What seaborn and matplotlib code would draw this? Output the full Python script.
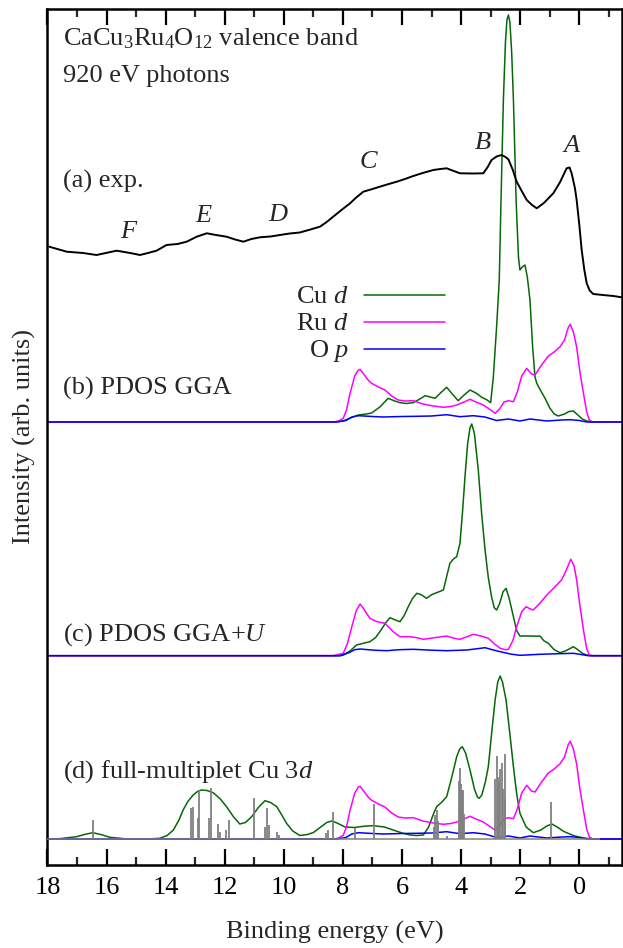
import numpy as np
import pandas as pd
import matplotlib
matplotlib.use("Agg")
import matplotlib.pyplot as plt
import seaborn as sns
from matplotlib.lines import Line2D
from matplotlib.ticker import MultipleLocator

# ---------------- data (binding energy in eV, intensity in arb. units) ----------------
exp_E = [17.94, 17.35, 16.8, 16.34, 15.66, 15.2, 14.87, 14.6, 14.31, 13.97, 13.6, 13.29, 12.95,
         12.61, 12.3, 11.94, 11.65, 11.37, 11.1, 10.81, 10.45, 10.13, 9.8, 9.46, 9.1, 8.78, 8.55,
         8.33, 8.05, 7.76, 7.55, 7.31, 7.0, 6.75, 6.45, 6.18, 5.9, 5.62, 5.3, 4.94, 4.7, 4.49,
         4.25, 4.04, 3.6, 3.25, 3.1, 2.97, 2.8, 2.63, 2.5, 2.4, 2.25, 2.12, 1.95, 1.78, 1.6, 1.44,
         1.2, 0.88, 0.65, 0.43, 0.33, 0.26, 0.15, 0.09, 0.0, -0.08, -0.17, -0.25, -0.35, -0.47,
         -0.8, -1.15, -1.43]
exp_I = [50.6, 45.6, 44.3, 42.3, 46.6, 44.3, 42.3, 44.3, 46.6, 52.3, 53.3, 55.6, 60.6,
         64.0, 62.3, 60.6, 57.8, 55.6, 58.3, 60.0, 60.8, 62.3, 63.8, 64.8, 67.8, 70.6, 75.3,
         80.6, 87.3, 94.0, 99.8, 105.6, 108.3, 110.6, 113.3, 115.6, 118.3, 121.3, 124.3, 127.3, 128.3, 129.0,
         126.3, 124.0, 123.8, 124.0, 130.3, 137.3, 140.8, 142.3, 140.3, 138.0, 127.3, 115.6, 106.3, 97.3, 92.3, 89.0,
         94.3, 104.0, 115.3, 129.0, 129.8, 124.0, 109.3, 97.3, 72.3, 47.3, 27.3, 14.0, 6.8, 3.3,
         2.3, 1.3, 0.0]

gga_cu_E = [18.0, 8.3, 8.0, 7.75, 7.48, 7.2, 7.03, 6.75, 6.47, 6.25, 6.07, 5.85, 5.62, 5.4, 5.22, 5.05,
            4.88, 4.7, 4.49, 4.3, 4.1, 3.9, 3.7, 3.5, 3.3, 3.12, 3.0, 2.91, 2.8, 2.71, 2.65, 2.57, 2.5,
            2.45, 2.4, 2.35, 2.29, 2.23, 2.14, 2.06, 2.01, 1.93, 1.84, 1.76, 1.67, 1.58, 1.5, 1.44, 1.3,
            1.16, 1.0, 0.85, 0.71, 0.5, 0.35, 0.2, 0.05, -0.1, -0.25, -0.4, -1.43]
gga_cu_I = [0, 0, 1, 4, 7, 8, 9, 15, 23.7, 21, 19.3, 18.5, 19.3, 23, 26.3, 25,
            23.7, 29, 34.7, 28, 21.3, 27, 32, 29, 24.7, 22, 19.3, 45, 95, 142, 222, 322, 380,
            402, 407, 400, 370, 322, 222, 165, 152, 155, 157, 145, 122, 75, 45, 38.7, 31,
            23.7, 14, 8, 6, 8, 10.5, 11, 7, 3, 1, 0, 0]

gga_ru_E = [18.0, 8.32, 8.15, 7.99, 7.88, 7.76, 7.6, 7.48, 7.42, 7.3, 7.15, 7.03, 6.8, 6.58, 6.35, 6.13,
            5.9, 5.62, 5.3, 4.94, 4.6, 4.35, 4.15, 3.9, 3.7, 3.5, 3.25, 3.05, 2.85, 2.7, 2.55, 2.4,
            2.23, 2.1, 1.95, 1.78, 1.62, 1.5, 1.3, 1.05, 0.85, 0.65, 0.5, 0.38, 0.31, 0.2, 0.09,
            -0.02, -0.14, -0.25, -0.34, -0.45, -1.43]
gga_ru_I = [0, 0, 1, 3.7, 12, 28.7, 46, 52, 52.7, 48, 42, 38.7, 35, 32, 26, 22,
            21, 21.3, 18, 16, 14.7, 15.5, 17, 20, 22.7, 20, 17, 13, 8.7, 13, 20, 21.3,
            20.3, 30, 46, 53.7, 48, 47, 56, 66, 70, 75.3, 82, 94, 97.7, 90, 75,
            50, 28.7, 10, 2, 0, 0]

gga_o_E = [18.0, 8.2, 7.9, 7.7, 7.48, 7.0, 6.64, 6.0, 5.5, 5.0, 4.49, 4.04, 3.59, 3.2, 2.8, 2.4,
           2.01, 1.67, 1.1, 0.6, 0.31, 0.0, -0.25, -1.43]
gga_o_I = [0, 0, 1.5, 5, 6.3, 5.5, 5, 5.5, 5.7, 6, 7.3, 5.3, 6.3, 5, 1.5, 3,
           1, 3, 1, 2, 2.3, 1.5, 0, 0]

ggau_cu_E = [18.0, 8.1, 7.99, 7.75, 7.54, 7.3, 7.09, 6.9, 6.75, 6.55, 6.41, 6.25, 6.07, 5.93, 5.79,
             5.65, 5.5, 5.35, 5.17, 5.0, 4.83, 4.6, 4.5, 4.38, 4.25, 4.15, 4.04, 3.95, 3.87, 3.78,
             3.7, 3.64, 3.55, 3.42, 3.3, 3.19, 3.08, 2.97, 2.88, 2.8, 2.7, 2.58, 2.48, 2.38, 2.23,
             2.12, 2.01, 1.67, 1.45, 1.33, 1.2, 1.05, 0.85, 0.65, 0.45, 0.2, 0.05, -0.1, -0.25,
             -0.4, -1.43]
ggau_cu_I = [0, 0, 0.5, 5, 10.7, 12.5, 14, 18, 24, 33, 38, 36, 34, 40, 49,
             57, 62.4, 61, 57.4, 61, 63, 65.7, 78, 92.4, 97, 99, 112.4, 145, 179, 212,
             228, 231.7, 222, 185.7, 140, 105.7, 78, 59, 48, 45.7, 52, 64, 67.4, 58, 39,
             25, 19.7, 19.7, 19.5, 19.7, 15, 12.4, 6, 3, 5, 9, 6, 2.5, 0.7,
             0, 0]

ggau_ru_E = [18.0, 8.32, 7.99, 7.85, 7.7, 7.55, 7.42, 7.3, 7.09, 6.85, 6.58, 6.3, 6.07, 5.73, 5.5,
             5.28, 4.9, 4.49, 4.25, 4.04, 3.8, 3.59, 3.3, 3.08, 2.88, 2.68, 2.5, 2.4, 2.25, 2.12,
             1.95, 1.8, 1.68, 1.56, 1.35, 1.1, 0.85, 0.6, 0.45, 0.29, 0.18, 0.09, -0.02, -0.14,
             -0.25, -0.34, -0.45, -1.43]
ggau_ru_I = [0, 0, 2.4, 12, 29, 45, 51.7, 47, 37.4, 34, 32.4, 24, 19, 19, 18,
             16.4, 18, 19.7, 17.5, 16.4, 19, 21.4, 19.5, 17.4, 12, 7.4, 6, 6.4, 15, 29,
             44, 49, 47, 45.7, 52, 60.7, 68, 75.7, 85, 96.4, 90, 75.7, 50, 25.7,
             7, 0.7, 0, 0]

ggau_o_E = [18.0, 8.1, 7.8, 7.6, 7.42, 6.95, 6.52, 6.1, 5.62, 5.0, 4.49, 3.81, 3.4, 3.19, 2.95,
            2.68, 2.3, 2.01, 1.33, 0.7, 0.2, -0.1, -0.3, -1.43]
ggau_o_I = [0, 0, 3, 6, 6.7, 5.5, 5, 6, 6.4, 5.5, 5, 5.7, 7.2, 8, 6,
            4, 1.5, 0.4, 1.4, 2, 2.4, 1, 0, 0]

mult_E = [18.0, 17.6, 17.01, 16.75, 16.47, 16.2, 15.89, 15.3, 14.6, 14.2, 13.95, 13.74, 13.55, 13.41,
          13.25, 13.07, 12.9, 12.78, 12.6, 12.39, 12.15, 11.94, 11.7, 11.49, 11.3, 11.09, 10.85,
          10.64, 10.45, 10.24, 10.05, 9.91, 9.7, 9.46, 9.2, 9.0, 8.75, 8.55, 8.38, 8.2, 7.93, 7.6,
          7.42, 7.2, 6.97, 6.6, 6.3, 6.0, 5.73, 5.5, 5.28, 5.1, 4.95, 4.83, 4.65, 4.49, 4.35, 4.25,
          4.15, 4.05, 3.96, 3.85, 3.7, 3.55, 3.45, 3.39, 3.3, 3.18, 3.08, 2.96, 2.85, 2.76, 2.68,
          2.6, 2.48, 2.35, 2.23, 2.12, 2.01, 1.8, 1.56, 1.3, 1.1, 0.93, 0.75, 0.55, 0.43, 0.2,
          -0.02, -0.3, -0.6, -1.43]
mult_I = [0, 0.3, 2.3, 4.5, 6.3, 4.5, 1.7, 0, 0, 0.7, 3.5, 9, 19, 29,
          37.5, 44, 48, 49, 48.5, 46.3, 40, 32.3, 22, 15, 16.5, 22.3, 32,
          38.3, 36.5, 32.3, 23, 15.7, 8, 3.5, 4.5, 6.5, 12, 16.5, 18, 16, 12, 11.5,
          12.3, 13, 13.3, 12, 9, 6, 4, 3.5, 4, 12, 24, 32.3, 37, 42.3, 58, 70,
          82.3, 90, 92.3, 86, 69, 50, 42, 40.7, 44, 57, 72.3, 108, 139, 157, 163,
          157, 139, 105, 72.3, 45, 25.7, 12, 6.3, 9, 13, 15, 12, 8, 6.3, 3.5,
          1.7, 0.5, 0, 0]

stick_E = [16.47, 13.14, 13.07, 12.90, 12.86, 12.52, 12.48, 12.22, 12.15, 11.96, 11.85, 11.01,
           10.64, 10.56, 10.50, 10.24, 10.16, 8.58, 8.52, 8.33, 7.59, 6.95, 4.92, 4.88, 4.83,
           4.78, 4.47, 4.06, 4.04, 4.00, 3.97, 3.93, 3.90, 2.84, 2.80, 2.76, 2.72, 2.68, 2.63,
           2.58, 2.53, 2.50, 0.97]
stick_I = [19, 31, 32, 21, 49, 21, 51, 15, 7, 9, 19, 41,
           12, 31, 14, 7, 4, 6, 9, 27, 11, 35, 12, 24, 29,
           18, 3, 58, 71, 55, 48, 49, 25, 60, 83, 62, 57, 70, 76,
           50, 85, 40, 37]

x_ticks = [18, 16, 14, 12, 10, 8, 6, 4, 2, 0]
x_tick_labels = ["18", "16", "14", "12", "10", "8", "6", "4", "2", "0"]
peak_labels = ["A", "B", "C", "D", "E", "F"]
peak_E = [0.26, 3.25, 7.14, 10.19, 12.73, 15.27]
peak_y = [712, 715, 696, 643, 642, 626]

# vertical offsets of the stacked spectra
off_exp, off_b, off_c, off_d = 567.2, 442.5, 208.8, 25.5

# ---------------- style ----------------
sns.set_theme(style="ticks")
plt.rcParams["font.family"] = ["Liberation Serif", "DejaVu Serif"]
plt.rcParams["mathtext.fontset"] = "custom"
plt.rcParams["mathtext.rm"] = "Liberation Serif"
plt.rcParams["mathtext.it"] = "Liberation Serif:italic"
FS = 19

GREEN = "#066806"
MAG = "#ff00ff"
BLUE = "#0000ff"
GREY = "#808080"

fig = plt.figure(figsize=(6.23, 9.48), dpi=100)
ax = fig.add_axes([0.07624, 0.08808, 0.9217, 0.90243])

def draw(E, I, off, color, lw=1.1, z=2):
    df = pd.DataFrame({"E": E, "I": np.asarray(I, dtype=float) + off})
    sns.lineplot(data=df, x="E", y="I", color=color, lw=lw, ax=ax,
                 estimator=None, sort=False, zorder=z)

# (a) experiment
draw(exp_E, exp_I, off_exp, "black", lw=1.4, z=4)

# (b) PDOS GGA
draw(gga_cu_E, gga_cu_I, off_b, GREEN)
draw(gga_ru_E, gga_ru_I, off_b, MAG)
draw(gga_o_E, gga_o_I, off_b, BLUE)

# (c) PDOS GGA+U
draw(ggau_cu_E, ggau_cu_I, off_c, GREEN)
draw(ggau_ru_E, ggau_ru_I, off_c, MAG)
draw(ggau_o_E, ggau_o_I, off_c, BLUE)

# (d) full multiplet
draw(mult_E, mult_I, off_d, GREEN)
draw(gga_ru_E, gga_ru_I, off_d, MAG)
draw(gga_o_E, gga_o_I, off_d, BLUE)
ax.hlines(off_d, 18.0, -0.7, color=GREY, lw=1.1, zorder=5)
ax.vlines(stick_E, off_d, np.asarray(stick_I) + off_d, color=GREY, lw=1.3, zorder=5)

# ---------------- axes ----------------
ax.set_xlim(18.0, -1.435)
ax.set_ylim(0, 855.5)
ax.set_xticks(x_ticks)
ax.set_xticklabels(x_tick_labels, fontsize=FS)
ax.xaxis.set_minor_locator(MultipleLocator(1))
ax.set_yticks([])
ax.tick_params(axis="x", which="major", direction="in", length=11.5, width=1.6,
               top=True, bottom=True, pad=9, colors="black")
ax.tick_params(axis="x", which="minor", direction="in", length=5.8, width=1.6,
               top=True, bottom=True)
for side in ["left", "top", "bottom", "right"]:
    ax.spines[side].set_visible(True)
    ax.spines[side].set_linewidth(1.8)
    ax.spines[side].set_color("black")
ax.set_xlabel("Binding energy (eV)", fontsize=FS, labelpad=16)
ax.set_ylabel("Intensity (arb. units)", fontsize=FS, labelpad=8)

# ---------------- texts ----------------
tx = 17.48
ax.text(tx, 864.5 - 45, r"CaCu$_3$Ru$_4$O$_{12}$ valence band", fontsize=FS, va="baseline", ha="left")
ax.text(tx, 864.5 - 82, "920 eV photons", fontsize=FS, va="baseline", ha="left")
ax.text(tx, 864.5 - 188, "(a) exp.", fontsize=FS, va="baseline", ha="left")
ax.text(tx, 864.5 - 395, "(b) PDOS GGA", fontsize=FS, va="baseline", ha="left")
ax.text(tx, 864.5 - 641, r"(c) PDOS GGA+$U$", fontsize=FS, va="baseline", ha="left")
ax.text(tx, 864.5 - 778, r"(d) full-multiplet Cu 3$d$", fontsize=FS, va="baseline", ha="left")
for lab, e, y in zip(peak_labels, peak_E, peak_y):
    ax.text(e, y, lab, fontsize=FS, style="italic", ha="center", va="baseline")

# legend (label then line), right-aligned labels
leg_labels = [r"Cu $d$", r"Ru $d$", r"O $p$"]
leg_colors = [GREEN, MAG, BLUE]
leg_rows = [295, 322, 349]
for lab, col, py in zip(leg_labels, leg_colors, leg_rows):
    ya = (864.5 - py) / 855.5
    ax.text((349 - 47.5) / 574.2, ya - 0.002, lab, transform=ax.transAxes, fontsize=FS,
            ha="right", va="center")
    ax.add_line(Line2D([(364 - 47.5) / 574.2, (445 - 47.5) / 574.2], [ya, ya],
                       transform=ax.transAxes, color=col, lw=1.1))

fig.savefig("out.png", dpi=100)
